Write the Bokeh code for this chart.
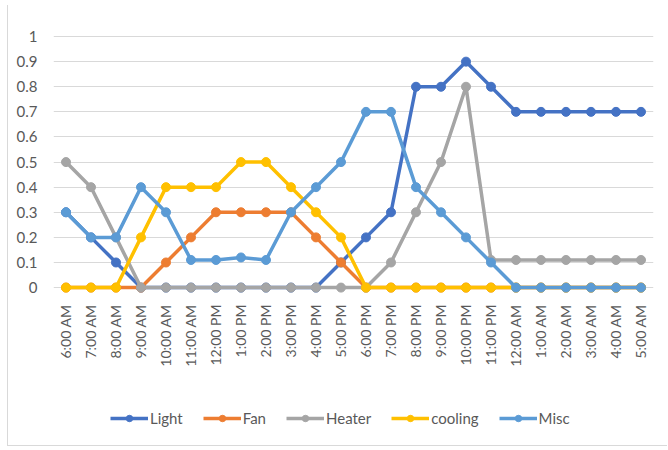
from bokeh.plotting import figure
from bokeh.models import (Legend, LegendItem, FixedTicker, CustomJSTickFormatter,
                          FactorRange, Range1d)
from bokeh.embed import file_html
from bokeh.resources import INLINE
import math

hours = ["6:00 AM", "7:00 AM", "8:00 AM", "9:00 AM", "10:00 AM", "11:00 AM",
         "12:00 PM", "1:00 PM", "2:00 PM", "3:00 PM", "4:00 PM", "5:00 PM",
         "6:00 PM", "7:00 PM", "8:00 PM", "9:00 PM", "10:00 PM", "11:00 PM",
         "12:00 AM", "1:00 AM", "2:00 AM", "3:00 AM", "4:00 AM", "5:00 AM"]

light = [0.3, 0.2, 0.1, 0, 0, 0, 0, 0, 0, 0, 0, 0.1,
         0.2, 0.3, 0.8, 0.8, 0.9, 0.8, 0.7, 0.7, 0.7, 0.7, 0.7, 0.7]
fan = [0, 0, 0, 0, 0.1, 0.2, 0.3, 0.3, 0.3, 0.3, 0.2, 0.1,
       0, 0, 0, 0, 0, 0, 0, 0, 0, 0, 0, 0]
heater = [0.5, 0.4, 0.2, 0, 0, 0, 0, 0, 0, 0, 0, 0,
          0, 0.1, 0.3, 0.5, 0.8, 0.11, 0.11, 0.11, 0.11, 0.11, 0.11, 0.11]
cooling = [0, 0, 0, 0.2, 0.4, 0.4, 0.4, 0.5, 0.5, 0.4, 0.3, 0.2,
           0, 0, 0, 0, 0, 0, 0, 0, 0, 0, 0, 0]
misc = [0.3, 0.2, 0.2, 0.4, 0.3, 0.11, 0.11, 0.12, 0.11, 0.3, 0.4, 0.5,
        0.7, 0.7, 0.4, 0.3, 0.2, 0.1, 0, 0, 0, 0, 0, 0]
value_ticks = [0, 0.1, 0.2, 0.3, 0.4, 0.5, 0.6, 0.7, 0.8, 0.9, 1]

series_names = ["Light", "Fan", "Heater", "cooling", "Misc"]
series_values = [light, fan, heater, cooling, misc]
series_colors = ["#4472C4", "#ED7D31", "#A5A5A5", "#FFC000", "#5B9BD5"]

FONT = "Lato"
TEXT = "#595959"

# The frame reaches down to the bottom edge so that the hour labels and the
# legend both sit inside it, below the zero line.
p = figure(width=660, height=441,
           x_range=FactorRange(*hours, range_padding=0),
           y_range=Range1d(-0.633, 1.04),
           output_backend="svg", toolbar_location=None,
           min_border_left=45, min_border_right=15,
           min_border_top=21, min_border_bottom=0)
p.outline_line_color = None
p.background_fill_color = "white"
p.border_fill_color = "white"

ticker = FixedTicker(ticks=value_ticks)
p.xgrid.grid_line_color = None
p.ygrid.ticker = ticker
p.ygrid.grid_line_color = "#D9D9D9"
p.ygrid.grid_line_width = 1

p.yaxis.ticker = ticker
p.yaxis.formatter = CustomJSTickFormatter(code="return String(Math.round(tick * 10) / 10);")
p.yaxis.axis_line_color = None
p.yaxis.major_tick_line_color = None
p.yaxis.minor_tick_line_color = None
p.yaxis.major_label_standoff = 10
p.yaxis.major_label_text_font = FONT
p.yaxis.major_label_text_font_size = "15px"
p.yaxis.major_label_text_color = TEXT

p.xaxis.fixed_location = -0.02
p.xaxis.axis_line_color = None
p.xaxis.major_tick_line_color = None
p.xaxis.major_label_orientation = math.pi / 2
p.xaxis.major_label_standoff = 6
p.xaxis.major_label_text_font = FONT
p.xaxis.major_label_text_font_size = "14px"
p.xaxis.major_label_text_color = TEXT

items = []
for name, vals, color in zip(series_names, series_values, series_colors):
    ln = p.line(hours, vals, line_color=color, line_width=3.5, line_join="round")
    mk = p.scatter(hours, vals, size=9, marker="circle",
                   fill_color=color, line_color=color)
    items.append(LegendItem(label=name, renderers=[ln, mk]))

legend = Legend(items=items, orientation="horizontal", location=(57, 19),
                label_text_font=FONT, label_text_font_size="15px",
                label_text_color=TEXT, glyph_width=38, glyph_height=16,
                label_height=16, label_standoff=2, spacing=20,
                padding=0, margin=0, border_line_color=None,
                background_fill_alpha=0)
p.add_layout(legend)

p.margin = (5, 0, 0, 7)
p.styles = {"border-left": "1px solid #D9D9D9",
            "border-bottom": "1px solid #D9D9D9"}

open("out.html", "w").write(file_html(p, INLINE))
